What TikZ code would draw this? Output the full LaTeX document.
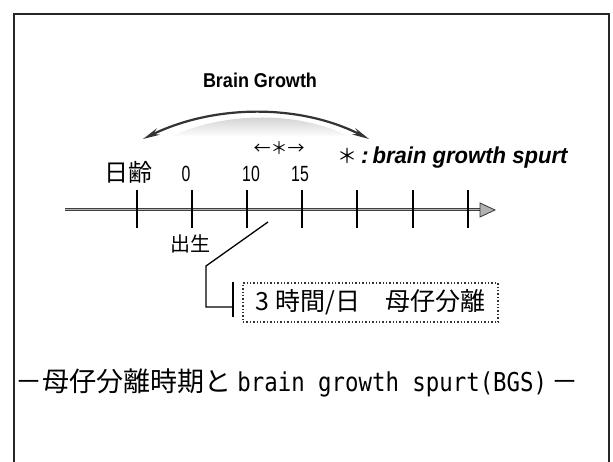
\documentclass[tikz,border=0pt]{standalone}
\usepackage{fontspec}
\usepackage{graphicx}
\setmainfont{Liberation Sans}
\newfontfamily\jp{Noto Sans CJK JP}
\newfontfamily\monofam{DejaVu Sans Mono}
\usetikzlibrary{arrows.meta}
\tikzset{
  frameline/.style={line width=1.6pt, black!85},
  tickline/.style={line width=1.3pt, black},
  leader/.style={line width=1.3pt, black},
  numlbl/.style={inner sep=0pt, font=\fontsize{22}{22}\selectfont},
  jplbl/.style={inner sep=0pt, font=\jp\fontsize{21}{21}\selectfont},
}
\newcommand{\narrow}[2]{\scalebox{#1}[1]{#2}}
\begin{document}
\begin{tikzpicture}[x=1pt,y=-1pt]
\useasboundingbox (0,0) rectangle (613,462);
\fill[white] (0,0) rectangle (613,462);
% frame
\draw[frameline] (14,462) -- (14,14) -- (609,14) -- (609,462);
% title
\node[inner sep=0pt, font=\bfseries\fontsize{20}{20}\selectfont] (title) at (260,80) {\narrow{0.9}{Brain Growth}};
% arc
\coordinate (al) at (143,139);
\coordinate (ar) at (369,139);
\shade[top color=gray!45, bottom color=white] (170,137) .. controls (225,111) and (300,111) .. (350,137) -- cycle;
\draw[line width=2.2pt, black!80, {Stealth[length=17pt,width=7pt]}-{Stealth[length=17pt,width=7pt]}]
  (al) .. controls (215,104) and (300,104) .. (ar);
% BGS markers
\node[inner sep=0pt, font=\jp\fontsize{17}{17}\selectfont] (bgsmark) at (279,148) {←＊→};
\node[inner sep=0pt, anchor=base west, font=\bfseries\itshape\fontsize{23}{23}\selectfont] (legend) at (337,164)
  {{\jp\mdseries\upshape\fontsize{20}{20}\selectfont ＊}\,:\,\narrow{0.96}{brain growth spurt}};
% axis
\coordinate (ax0) at (65,210);
\coordinate (ax1) at (481,210);
\coordinate (axtip) at (495,210);
\draw[line width=3pt, black!75] (ax0) -- (ax1);
\draw[line width=1pt, gray!60] (ax0) -- (ax1);
\filldraw[fill=gray!60, draw=black!80, line width=0.8pt] (480,203) -- (axtip) -- (480,217) -- cycle;
\foreach \x in {137,192,247,302,357,413,468}{
  \draw[tickline] (\x,190) -- (\x,228);
}
% labels
\node[jplbl, font=\jp\fontsize{24}{24}\selectfont] (age) at (128,172) {日齢};
\node[numlbl] (d0) at (186,174) {\narrow{0.72}{0}};
\node[numlbl] (d10) at (251,174) {\narrow{0.72}{10}};
\node[numlbl] (d15) at (300,174) {\narrow{0.72}{15}};
\node[jplbl, font=\jp\fontsize{20}{20}\selectfont] (birth) at (190,244) {出生};
% leader
\coordinate (p0) at (268,222);
\coordinate (p1) at (206,266);
\coordinate (p2) at (206,307);
\coordinate (p3) at (233,307);
\draw[leader] (p0) -- (p1) -- (p2) -- (p3);
\draw[leader] (233,282) -- (233,317);
% box
\node[draw=black!80, dotted, line width=1.4pt, minimum width=255pt, minimum height=39pt, inner sep=0pt,
      font=\jp\fontsize{25}{25}\selectfont] (box) at (370.5,302.5) {3 時間/日　母仔分離};
% caption
\node[inner sep=0pt, font=\jp\fontsize{27}{27}\selectfont] (cap) at (297,383)
  {－母仔分離時期と\ {\monofam\fontsize{26}{26}\selectfont\narrow{0.86}{brain growth spurt(BGS)}}\,－};
\end{tikzpicture}
\end{document}
